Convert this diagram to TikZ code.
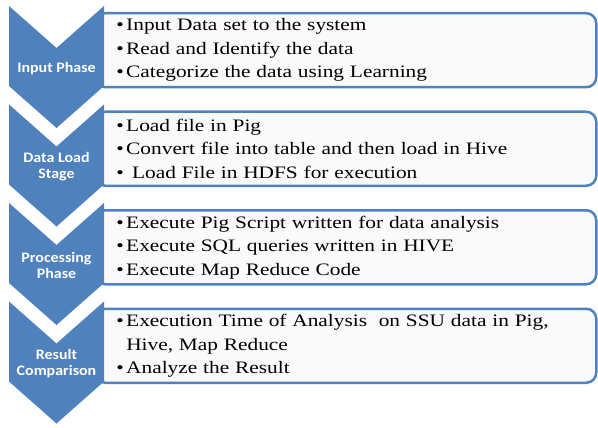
\documentclass[tikz,border=0pt]{standalone}
\usepackage{fontspec}
\newfontfamily\boxfont[FakeStretch=1.22]{Liberation Serif}
\newfontfamily\phasefont[FakeStretch=1.1]{Carlito}
\usetikzlibrary{positioning}
\definecolor{chevblue}{RGB}{79,129,189}
\newcommand{\bul}{\makebox[10pt][l]{•}}

\begin{document}
\begin{tikzpicture}[
  x=1pt,
  y=1pt,
  chevron/.style={
    fill=chevblue
  },
  phase/.style={
    align=center,
    text=white,
    font=\phasefont\bfseries\fontsize{14.5}{16}\selectfont,
    inner sep=0pt
  },
  infobox/.style={
    rectangle,
    rounded corners=10pt,
    draw=chevblue,
    line width=2.5pt,
    fill=black!2,
    anchor=north west,
    align=left,
    minimum width=501pt,
    minimum height=74pt,
    text width=459pt,
    inner xsep=21pt,
    inner ysep=1pt,
    font=\boxfont\fontsize{17.5}{23.5}\selectfont
  }
]
\useasboundingbox (0,0) rectangle (598,-428);

% text boxes (left ends sit under the chevrons)
\node[infobox] (inputbox) at (94,-12)
  {\bul Input Data set to the system\\
   \bul Read and Identify the data\\
   \bul Categorize the data using Learning};
\node[infobox] (loadbox) at (94,-110.5)
  {\bul Load file in Pig\\
   \bul Convert file into table and then load in Hive\\
   \bul\ Load File in HDFS for execution};
\node[infobox] (procbox) at (94,-209)
  {\bul Execute Pig Script written for data analysis\\
   \bul Execute SQL queries written in HIVE\\
   \bul Execute Map Reduce Code};
\node[infobox] (resultbox) at (94,-307.5)
  {\bul Execution Time of Analysis~ on SSU data in Pig,\\
   \hspace*{10pt}Hive, Map Reduce\\
   \bul Analyze the Result};

% chevrons
\fill[chevron] (9,-6) -- ++(47.5,-42) -- ++(47.5,42) -- ++(0,-80) -- ++(-47.5,-42) -- ++(-47.5,42) -- cycle;
\fill[chevron] (9,-104.5) -- ++(47.5,-42) -- ++(47.5,42) -- ++(0,-80) -- ++(-47.5,-42) -- ++(-47.5,42) -- cycle;
\fill[chevron] (9,-203) -- ++(47.5,-42) -- ++(47.5,42) -- ++(0,-80) -- ++(-47.5,-42) -- ++(-47.5,42) -- cycle;
\fill[chevron] (9,-301.5) -- ++(47.5,-42) -- ++(47.5,42) -- ++(0,-80) -- ++(-47.5,-42) -- ++(-47.5,42) -- cycle;

\node[phase] (input) at (56.5,-68.5) {Input Phase};
\node[phase] (load) at (56.5,-167) {Data Load\\Stage};
\node[phase] (proc) at (56.5,-265.5) {Processing\\Phase};
\node[phase] (result) at (56.5,-364) {Result\\Comparison};
\end{tikzpicture}
\end{document}
